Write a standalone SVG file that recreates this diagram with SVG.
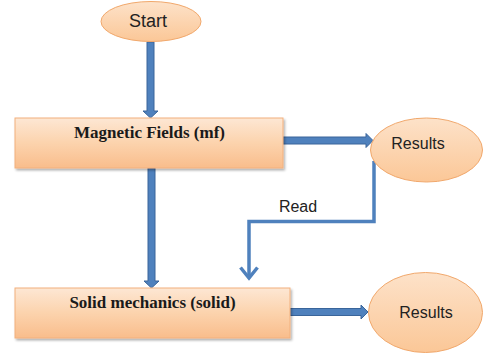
<svg xmlns="http://www.w3.org/2000/svg" width="486" height="354" viewBox="0 0 486 354">
<defs>
<linearGradient id="gBox" x1="0" y1="0" x2="0" y2="1">
<stop offset="0" stop-color="#fde7d4"/>
<stop offset="0.5" stop-color="#fcd3ad"/>
<stop offset="1" stop-color="#f9bd8c"/>
</linearGradient>
<linearGradient id="gEl" x1="0" y1="0" x2="0" y2="1">
<stop offset="0" stop-color="#fde2c9"/>
<stop offset="1" stop-color="#fbc797"/>
</linearGradient>
<filter id="sh" x="-10%" y="-10%" width="120%" height="140%">
<feDropShadow dx="1.5" dy="2" stdDeviation="1.2" flood-color="#000" flood-opacity="0.3"/>
</filter>
</defs>
<style>
.box{fill:url(#gBox);stroke:#f2b07c;stroke-width:1;filter:url(#sh)}
.el{fill:url(#gEl);stroke:#f1a86c;stroke-width:1}
.blk{fill:#4f81bd;stroke:#3a659a;stroke-width:1}
.thin{fill:none;stroke:#4f81bd;stroke-width:3.5;stroke-linejoin:miter}
.bt{font-family:"Liberation Serif","Times New Roman",serif;font-weight:bold;font-size:17px;fill:#1a1a1a;text-anchor:middle}
.st{font-family:"Liberation Sans",Arial,sans-serif;font-size:16px;fill:#222;text-anchor:middle}
</style>
<rect width="486" height="354" fill="#fff"/>
<g id="connectors">
<polygon class="blk" points="147,42 154,42 154,111 158,111 150.5,118 143,111 147,111"/>
<polygon class="blk" points="148,168 155,168 155,281 159,281 151.5,288 144,281 148,281"/>
<polygon class="blk" points="283,137 366,137 366,133.5 373,140.5 366,147.5 366,144 283,144"/>
<polygon class="blk" points="290,308.5 361,308.5 361,305 368,312 361,319 361,315.5 290,315.5"/>
<polyline class="thin" points="374,161 374,221.5 249,221.5 249,278"/>
<polyline class="thin" points="240.5,267.5 249,278 257.5,267.5"/>
<text class="st" x="298" y="212">Read</text>
</g>
<g id="start">
<ellipse class="el" cx="151" cy="21.5" rx="50" ry="20"/>
<text class="st" x="148" y="27" style="font-size:18px">Start</text>
</g>
<g id="mf">
<rect class="box" x="15" y="118" width="268" height="50"/>
<text class="bt" x="149.5" y="138">Magnetic Fields (mf)</text>
</g>
<g id="results1">
<ellipse class="el" cx="426.5" cy="150" rx="56" ry="32"/>
<text class="st" x="418" y="149">Results</text>
</g>
<g id="solid">
<rect class="box" x="15" y="288" width="275" height="50"/>
<text class="bt" x="152.5" y="308">Solid mechanics (solid)</text>
</g>
<g id="results2">
<ellipse class="el" cx="425.5" cy="312.5" rx="57" ry="40"/>
<text class="st" x="426" y="318">Results</text>
</g>
</svg>
